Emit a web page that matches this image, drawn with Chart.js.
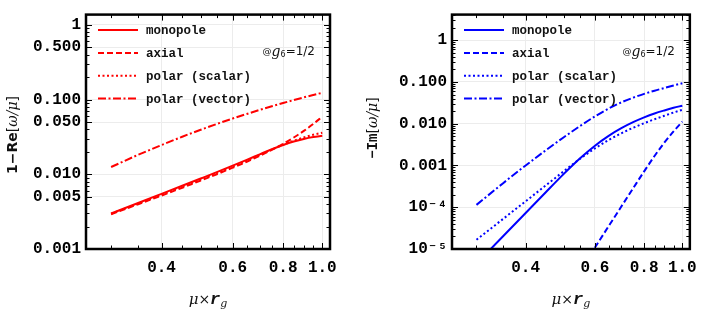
<!DOCTYPE html>
<html>
<head>
<meta charset="utf-8">
<script src="https://cdn.jsdelivr.net/npm/chart.js@4.4.0/dist/chart.umd.min.js"></script>
<style>
  html, body { margin: 0; padding: 0; background: #fff; }
  #wrap { position: relative; width: 706px; height: 310px; }
  .panel { position: absolute; top: 0; width: 353px; height: 310px; }
</style>
</head>
<body>
<div id="wrap">
  <div class="panel" style="left:0"><canvas id="re-chart" width="353" height="310"></canvas></div>
  <div class="panel" style="left:353px"><canvas id="im-chart" width="353" height="310"></canvas></div>
</div>
<script>
// datos
const muRg = [0.3, 0.35, 0.4, 0.45, 0.5, 0.55, 0.6, 0.65, 0.7, 0.75, 0.8, 0.85, 0.9, 0.95, 1.0];
const seriesNames = ['monopole', 'axial', 'polar (scalar)', 'polar (vector)'];

// 1 - Re[w/mu]
const reMonopole = [0.00299, 0.00413, 0.00547, 0.00701, 0.00877, 0.01076, 0.01303, 0.0156, 0.01849, 0.02163, 0.02466, 0.02742, 0.02972, 0.03148, 0.0327];
const reAxial    = [0.00292, 0.00397, 0.00519, 0.00661, 0.00824, 0.0101, 0.01225, 0.01472, 0.01766, 0.02123, 0.02559, 0.03105, 0.038, 0.0471, 0.059];
const reScalar   = [0.00296, 0.00405, 0.00533, 0.00681, 0.0085, 0.01043, 0.01263, 0.01515, 0.01807, 0.0214, 0.0248, 0.0281, 0.0312, 0.0338, 0.036];
const reVector   = [0.0125, 0.0182, 0.0246, 0.0318, 0.0394, 0.0474, 0.0557, 0.0641, 0.0727, 0.0813, 0.0899, 0.0985, 0.1069, 0.1151, 0.1233];

// -Im[w/mu]
const imMonopole = [4.46e-6, 1.99e-5, 7.28e-5, 2.29e-4, 6.3e-4, 1.49e-3, 2.98e-3, 5.13e-3, 7.83e-3, 0.0109, 0.0142, 0.0176, 0.0208, 0.024, 0.027];
const imAxial    = [null, null, null, null, null, 3.07e-6, 1.09e-5, 3.52e-5, 1.04e-4, 2.84e-4, 7.24e-4, 1.69e-3, 3.51e-3, 6.53e-3, 0.0112];
const imScalar   = [1.66e-5, 5.19e-5, 1.39e-4, 3.33e-4, 7.28e-4, 1.45e-3, 2.57e-3, 4.07e-3, 5.9e-3, 8.0e-3, 0.0103, 0.0128, 0.0155, 0.0185, 0.0215];
const imVector   = [1.14e-4, 3.72e-4, 1.0e-3, 2.31e-3, 4.74e-3, 8.81e-3, 0.015, 0.0231, 0.0324, 0.042, 0.0519, 0.0618, 0.0716, 0.0822, 0.0929];

// ticks
const xTicks = [0.4, 0.6, 0.8, 1.0];
const xTickLabels = ['0.4', '0.6', '0.8', '1.0'];
const reTicks = [0.001, 0.005, 0.01, 0.05, 0.1, 0.5, 1];
const reTickLabels = ['0.001', '0.005', '0.010', '0.050', '0.100', '0.500', '1'];
const imTicks = [1e-5, 1e-4, 1e-3, 1e-2, 0.1, 1];
const imTickLabels = ['10⁻⁵', '10⁻⁴', '0.001', '0.010', '0.100', '1'];

const dashes = [[], [6, 3], [2, 2.5], [8, 2.5, 2, 2.5]];
const monoFont = '"Liberation Mono", "DejaVu Sans Mono", monospace';

// minor ticks of the frame
const xMinor = [];
for (let v = 0.30; v < 1.0; v += 0.05) {
  const r = Math.round(v * 100) / 100;
  if (!xTicks.includes(r)) xMinor.push(r);
}
function logMinor(from, to, skip) {
  const out = [];
  for (let d = from; d <= to; d++) {
    for (let k = 2; k <= 9; k++) if (k !== skip) out.push(k * Math.pow(10, d));
  }
  return out;
}

function drawRuns(ctx, runs, x, y, align) {
  let total = 0;
  runs.forEach(r => { ctx.font = r.font; r.w = ctx.measureText(r.text).width; total += r.w; });
  let cx = align === 'center' ? x - total / 2 : (align === 'right' ? x - total : x);
  ctx.textAlign = 'left';
  ctx.textBaseline = 'middle';
  runs.forEach(r => { ctx.font = r.font; ctx.fillText(r.text, cx, y + (r.dy || 0)); cx += r.w; });
}

// marco, ticks interiores, leyenda y textos
const decorPlugin = {
  id: 'decor',
  afterDatasetsDraw(chart) {
    const ctx = chart.ctx;
    const a = chart.chartArea;
    const o = chart.options.plugins.decor;
    const sx = chart.scales.x, sy = chart.scales.y;
    ctx.save();
    ctx.strokeStyle = '#000';
    ctx.lineWidth = 1;
    ctx.beginPath();
    const xt = (vals, len) => vals.forEach(v => {
      if (v < sx.min || v > sx.max) return;
      const p = Math.round(sx.getPixelForValue(v)) + 0.5;
      ctx.moveTo(p, a.bottom); ctx.lineTo(p, a.bottom - len);
      ctx.moveTo(p, a.top); ctx.lineTo(p, a.top + len);
    });
    const yt = (vals, len) => vals.forEach(v => {
      if (v < sy.min || v > sy.max) return;
      const p = Math.round(sy.getPixelForValue(v)) + 0.5;
      ctx.moveTo(a.left, p); ctx.lineTo(a.left + len, p);
      ctx.moveTo(a.right, p); ctx.lineTo(a.right - len, p);
    });
    xt(xTicks, 6); xt(xMinor, 3.5);
    yt(o.yMajor, 6); yt(o.yMinor, 3.5);
    ctx.stroke();
    ctx.lineWidth = 2.5;
    ctx.strokeRect(a.left, a.top, a.right - a.left, a.bottom - a.top);

    // leyenda
    chart.data.datasets.forEach((ds, i) => {
      const ly = a.top + 15.5 + i * 22.8;
      ctx.strokeStyle = ds.borderColor;
      ctx.lineWidth = ds.borderWidth;
      ctx.setLineDash(ds.borderDash);
      ctx.beginPath();
      ctx.moveTo(a.left + 12, ly); ctx.lineTo(a.left + 52, ly);
      ctx.stroke();
      ctx.setLineDash([]);
      ctx.fillStyle = '#111';
      ctx.font = 'bold 12.5px ' + monoFont;
      ctx.textAlign = 'left';
      ctx.textBaseline = 'middle';
      ctx.fillText(ds.label, a.left + 60, ly + 1);
    });

    // parametro
    ctx.fillStyle = '#111';
    drawRuns(ctx, [
      {text: '@', font: '9px "DejaVu Sans"'},
      {text: 'g', font: 'italic 14px "DejaVu Serif"'},
      {text: '6', font: '8px "DejaVu Sans"', dy: 3},
      {text: '=1/2', font: '12px "DejaVu Sans"'}
    ], a.right - 15, a.top + 37.5, 'right');

    // titulos de ejes
    drawRuns(ctx, [
      {text: 'μ', font: 'italic 15px "DejaVu Serif"'},
      {text: '×', font: '14px "DejaVu Sans"'},
      {text: 'r', font: 'bold italic 17px ' + monoFont},
      {text: 'g', font: 'italic 11px "DejaVu Serif"', dy: 4}
    ], (a.left + a.right) / 2, 300, 'center');
    ctx.translate(o.yTitleX, o.yTitleY);
    ctx.rotate(-Math.PI / 2);
    drawRuns(ctx, o.yTitle, 0, 0, 'center');
    ctx.restore();
  }
};

function makeChart(canvasId, series, color, yMin, yMax, yTicks, yLabels, yWidth, padRight, decor) {
  const datasets = series.map((vals, i) => ({
    label: seriesNames[i],
    data: muRg.map((x, k) => ({x: x, y: vals[k]})),
    borderColor: color,
    borderWidth: 2,
    borderDash: dashes[i],
    pointRadius: 0,
    fill: false,
    cubicInterpolationMode: 'monotone'
  }));
  return new Chart(document.getElementById(canvasId), {
    type: 'line',
    data: {datasets: datasets},
    options: {
      responsive: false,
      animation: false,
      layout: {padding: {left: 0, right: padRight, top: 5, bottom: 0}},
      plugins: {legend: {display: false}, tooltip: {enabled: false}, decor: decor},
      scales: {
        x: {
          type: 'logarithmic', min: 0.26, max: 1.045, bounds: 'data',
          afterBuildTicks: s => { s.ticks = xTicks.map(v => ({value: v})); },
          afterFit: s => { s.height = 61; },
          ticks: {
            autoSkip: false, maxRotation: 0, padding: 9, color: '#000',
            font: {family: monoFont, size: 16, weight: 'bold'},
            callback: (v, i) => xTickLabels[i]
          },
          grid: {color: '#ececec', drawTicks: false},
          border: {display: false}
        },
        y: {
          type: 'logarithmic', min: yMin, max: yMax, bounds: 'data',
          afterBuildTicks: s => { s.ticks = yTicks.map(v => ({value: v})); },
          afterFit: s => { s.width = yWidth; },
          ticks: {
            autoSkip: false, padding: 5, color: '#000',
            font: {family: monoFont, size: 16, weight: 'bold'},
            callback: (v, i) => yLabels[i]
          },
          grid: {color: '#ececec', drawTicks: false},
          border: {display: false}
        }
      }
    },
    plugins: [decorPlugin]
  });
}

const reChart = makeChart('re-chart', [reMonopole, reAxial, reScalar, reVector], '#ff0000',
  0.001, 1.37, reTicks, reTickLabels, 86, 23, {
    yMajor: reTicks, yMinor: logMinor(-3, -1, 5),
    yTitleX: 13, yTitleY: 135,
    yTitle: [
      {text: '1−Re', font: 'bold 14px "DejaVu Sans"'},
      {text: '[', font: '14px "DejaVu Sans"'},
      {text: 'ω/μ', font: 'italic 14px "DejaVu Serif"'},
      {text: ']', font: '14px "DejaVu Sans"'}
    ]
  });

const imChart = makeChart('im-chart', [imMonopole, imAxial, imScalar, imVector], '#0000ff',
  1e-5, 4.1, imTicks, imTickLabels, 99, 9, {
    yMajor: imTicks, yMinor: logMinor(-5, 0),
    yTitleX: 20, yTitleY: 128,
    yTitle: [
      {text: '−Im', font: 'bold 14px ' + monoFont},
      {text: '[', font: '14px "DejaVu Sans"'},
      {text: 'ω/μ', font: 'italic 14px "DejaVu Serif"'},
      {text: ']', font: '14px "DejaVu Sans"'}
    ]
  });
</script>
</body>
</html>
